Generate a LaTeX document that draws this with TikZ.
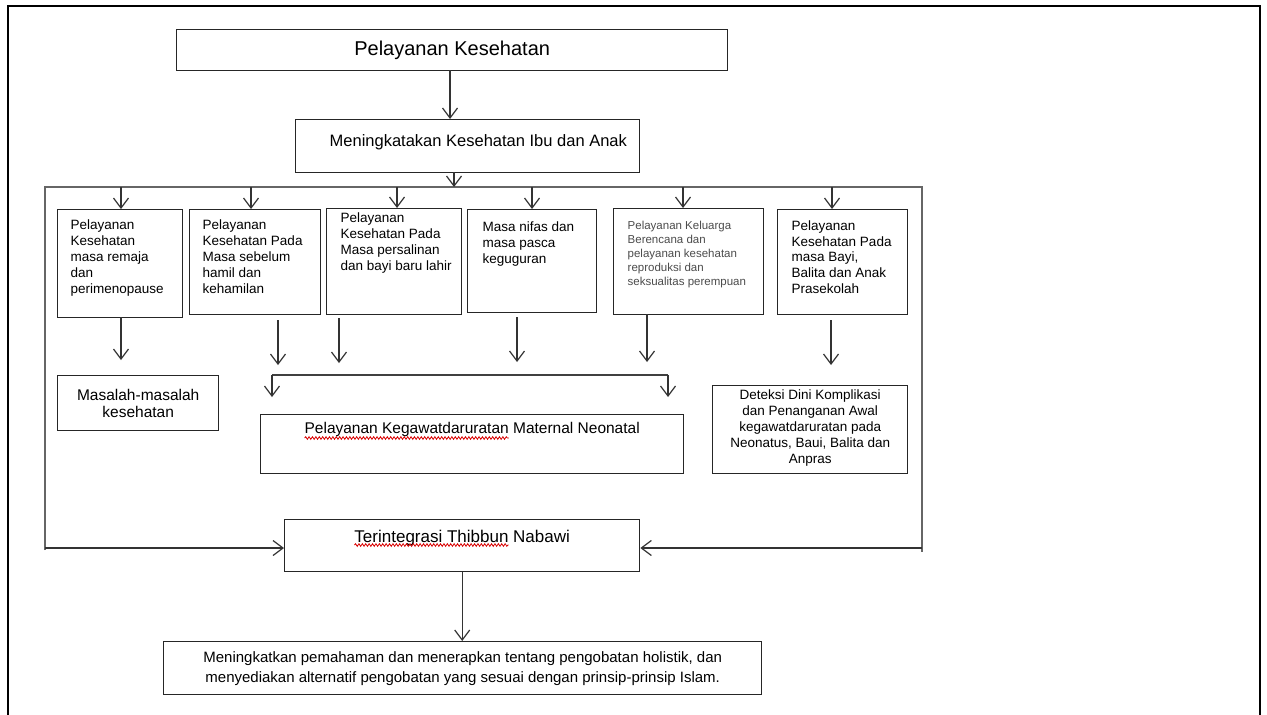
\documentclass[tikz,border=0pt]{standalone}
\usepackage{fontspec}
\setmainfont{Liberation Sans}
\usetikzlibrary{arrows.meta,decorations.pathmorphing}

\newcommand\fs[2]{\fontsize{#1}{#2}\selectfont}
\newlength\sqKall
\newlength\sqKpart
\newlength\sqCall
\newlength\sqCpart

\tikzset{
  box/.style={draw=black!85, line width=1.4pt, inner sep=0pt, anchor=north west},
  link/.style={draw=black!80, line width=1.2pt,
    -{Straight Barb[length=10pt,width=15pt,line width=1.2pt]}},
  rail/.style={draw=black!60, line width=1.4pt},
  bracket/.style={draw=black!75, line width=1.2pt},
  frame/.style={draw=black, line width=2.4pt},
  squiggle/.style={draw=red!85!black, line width=0.8pt, decorate,
    decoration={snake, amplitude=1.3pt, segment length=3.4pt}},
}

\begin{document}
% widths of the marked words, taken in the fonts used below
\settowidth\sqKall{\fs{15.5}{18}Pelayanan Kegawatdaruratan Maternal Neonatal}
\settowidth\sqKpart{\fs{15.5}{18}Pelayanan Kegawatdaruratan}
\settowidth\sqCall{\fs{17}{20}Terintegrasi Thibbun Nabawi}
\settowidth\sqCpart{\fs{17}{20}Terintegrasi Thibbun}
\begin{tikzpicture}[x=1pt,y=-1pt]
\useasboundingbox (0,0) rectangle (1267,715);
\fill[white] (0,0) rectangle (1267,715);

% page frame
\draw[frame] (8,740) -- (8,6) -- (1260,6) -- (1260,740);

% top of the chart
\node[box, minimum width=551pt, minimum height=41pt] (A) at (176,29)
  {\fs{20}{24}Pelayanan Kesehatan};
\node[box, minimum width=344pt, minimum height=53pt] (B) at (295,119)
  {\hspace*{34pt}\parbox[c][23pt][t]{310pt}{\fs{16.5}{20}Meningkatakan Kesehatan Ibu dan Anak}};

\coordinate (ab) at (450,70);
\draw[link] (ab) -- (ab |- B.north);

% distribution rail
\coordinate (rl) at (45,187);
\coordinate (rr) at (922,187);
\coordinate (rlb) at (45,550);
\coordinate (rrb) at (922,552);
\draw[rail] (rlb) -- (rl) -- (rr) -- (rrb);
\coordinate (bd) at (454,172);
\draw[link] (bd) -- (bd |- rl);

% six service boxes
\node[box, minimum width=125pt, minimum height=108pt] (b1) at (57,209)
  {\hspace*{13pt}\parbox[c][88pt][t]{112pt}{\raggedright\fs{13.5}{16}Pelayanan\\Kesehatan\\masa remaja\\dan\\perimenopause}};
\node[box, minimum width=131pt, minimum height=105pt] (b2) at (189,209)
  {\hspace*{13pt}\parbox[c][85pt][t]{118pt}{\raggedright\fs{13.5}{16}Pelayanan\\Kesehatan Pada\\Masa sebelum\\hamil dan\\kehamilan}};
\node[box, minimum width=135pt, minimum height=106pt] (b3) at (326,208)
  {\hspace*{14pt}\parbox[c][98pt][t]{121pt}{\raggedright\fs{13.5}{16}Pelayanan\\Kesehatan Pada\\Masa persalinan\\dan bayi baru lahir}};
\node[box, minimum width=129pt, minimum height=103pt] (b4) at (467,209)
  {\hspace*{15pt}\parbox[c][79pt][t]{114pt}{\raggedright\fs{13.5}{16}Masa nifas dan\\masa pasca\\keguguran}};
\node[box, minimum width=150pt, minimum height=106pt] (b5) at (613,208)
  {\hspace*{14pt}\parbox[c][82pt][t]{136pt}{\raggedright\color{black!70}\fs{11.5}{14}Pelayanan Keluarga\\Berencana dan\\pelayanan kesehatan\\reproduksi dan\\seksualitas perempuan}};
\node[box, minimum width=130pt, minimum height=105pt] (b6) at (777,209)
  {\hspace*{14pt}\parbox[c][83pt][t]{116pt}{\raggedright\fs{13.5}{15.7}Pelayanan\\Kesehatan Pada\\masa Bayi,\\Balita dan Anak\\Prasekolah}};

% arrows from the rail into the six boxes
\coordinate (t1) at (121,187);
\coordinate (t2) at (251,187);
\coordinate (t3) at (397,187);
\coordinate (t4) at (532,187);
\coordinate (t5) at (683,187);
\coordinate (t6) at (832,187);
\draw[link] (t1) -- (t1 |- b1.north);
\draw[link] (t2) -- (t2 |- b2.north);
\draw[link] (t3) -- (t3 |- b3.north);
\draw[link] (t4) -- (t4 |- b4.north);
\draw[link] (t5) -- (t5 |- b5.north);
\draw[link] (t6) -- (t6 |- b6.north);

% second level
\node[box, minimum width=161pt, minimum height=55pt] (M) at (57,375)
  {\parbox{161pt}{\centering\fs{15.5}{17}Masalah-masalah\\kesehatan}};
\node[box, minimum width=423pt, minimum height=59pt] (K) at (260,414)
  {\parbox[c][43pt][t]{423pt}{\centering\fs{15.5}{18}Pelayanan Kegawatdaruratan Maternal Neonatal}};
\node[box, minimum width=195pt, minimum height=88pt] (D) at (712,385)
  {\parbox[c][80pt][t]{195pt}{\centering\fs{13.5}{16}Deteksi Dini Komplikasi\\dan Penanganan Awal\\kegawatdaruratan pada\\Neonatus, Baui, Balita dan\\Anpras}};

\coordinate (s1) at (121,317);  \coordinate (e1) at (121,360);
\coordinate (s2) at (278,320);  \coordinate (e2) at (278,365);
\coordinate (s3) at (339,318);  \coordinate (e3) at (339,363);
\coordinate (s4) at (517,317);  \coordinate (e4) at (517,362);
\coordinate (s5) at (647,314);  \coordinate (e5) at (647,362);
\coordinate (s6) at (831,320);  \coordinate (e6) at (831,365);
\draw[link] (s1) -- (e1);
\draw[link] (s2) -- (e2);
\draw[link] (s3) -- (e3);
\draw[link] (s4) -- (e4);
\draw[link] (s5) -- (e5);
\draw[link] (s6) -- (e6);

% bracket over the emergency box
\coordinate (kl) at (272,375);
\coordinate (kr) at (668,375);
\draw[bracket] (kl) -- (kr);
\draw[link] (kl) -- ++(0,22);
\draw[link] (kr) -- ++(0,22);

% integration box and result
\node[box, minimum width=355pt, minimum height=52pt] (C) at (284,519)
  {\parbox[c][32pt][t]{355pt}{\centering\fs{17}{20}Terintegrasi Thibbun Nabawi}};
\node[box, minimum width=598pt, minimum height=53pt] (R) at (163,641)
  {\parbox{598pt}{\centering\fs{15}{20}Meningkatkan pemahaman dan menerapkan tentang pengobatan holistik, dan\\menyediakan alternatif pengobatan yang sesuai dengan prinsip-prinsip Islam.}};

\coordinate (hl) at (45,548);
\coordinate (hr) at (922,548);
\draw[link] (hl) -- (hl -| C.west);
\draw[link] (hr) -- (hr -| C.east);
\draw[link] (C.south) -- (C.south |- R.north);

% spelling marks under the unknown words
\path (K.north) ++(0,24) coordinate (kq);
\draw[squiggle] ([xshift=-0.5\sqKall]kq) -- ([xshift=-0.5\sqKall+\sqKpart]kq);
\path (C.north) ++(0,26) coordinate (cq);
\draw[squiggle] ([xshift=-0.5\sqCall]cq) -- ([xshift=-0.5\sqCall+\sqCpart]cq);
\end{tikzpicture}
\end{document}
